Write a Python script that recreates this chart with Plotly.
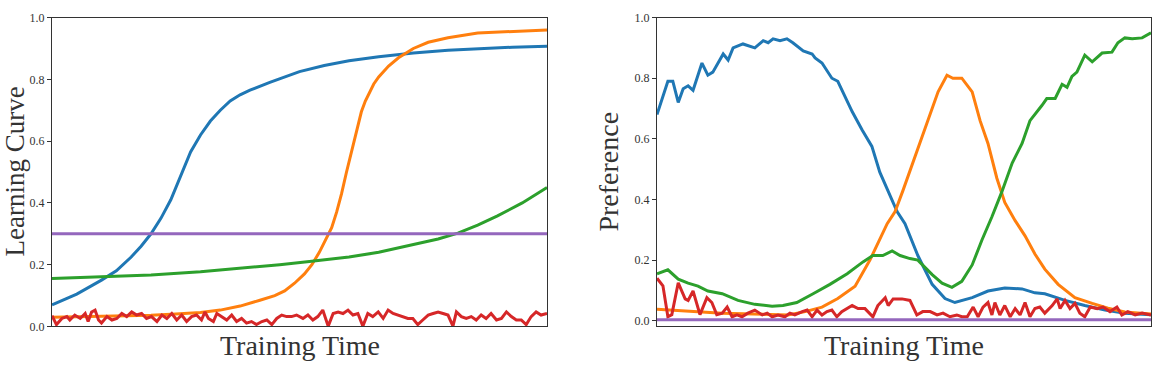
import plotly.graph_objects as go

# ---------------- Left panel: Learning Curve ----------------
L_blue_x = [0, 5, 10, 13, 16, 18, 20, 22, 24, 26, 28, 30, 32, 34, 36, 38, 40, 44, 50, 55, 60, 66, 73, 80, 87, 93, 100]
L_blue_y = [0.07, 0.105, 0.15, 0.18, 0.225, 0.26, 0.30, 0.35, 0.41, 0.49, 0.565, 0.62, 0.665, 0.70, 0.73, 0.75,
            0.765, 0.79, 0.825, 0.845, 0.86, 0.873, 0.885, 0.894, 0.90, 0.904, 0.907]

L_orange_x = [0, 10, 20, 25, 30, 34, 38, 42, 45, 47, 49, 51, 52.5, 54, 55.5, 56.5, 57.5, 58.5, 59.5, 60.5, 61.5,
              62.5, 63.3, 64, 65, 66, 68, 70, 73, 76, 80, 86, 93, 100]
L_orange_y = [0.03, 0.033, 0.036, 0.04, 0.045, 0.053, 0.066, 0.085, 0.10, 0.115, 0.14, 0.17, 0.20, 0.24, 0.285,
              0.32, 0.37, 0.43, 0.50, 0.565, 0.635, 0.695, 0.73, 0.755, 0.785, 0.808, 0.843, 0.870, 0.90, 0.92,
              0.935, 0.95, 0.956, 0.96]

L_green_x = [0, 10, 20, 30, 40, 46, 52, 60, 66, 73, 78, 82, 86, 90, 95, 100]
L_green_y = [0.155, 0.16, 0.167, 0.177, 0.19, 0.20, 0.21, 0.225, 0.24, 0.265, 0.283, 0.302, 0.328, 0.358, 0.40, 0.45]

L_purple_x = [0, 100]
L_purple_y = [0.30, 0.30]

L_red_x = [0, 0.9, 2.0, 3.0, 3.6, 4.6, 5.7, 6.7, 7.3, 8.0, 8.7, 9.4, 10.0, 11.1, 12.1, 13.1, 14.1, 15.1, 16.1,
           17.1, 18.1, 19.1, 20.1, 21.2, 22.2, 23.2, 24.2, 25.2, 26.2, 27.2, 28.2, 29.2, 30.2, 30.9, 31.6, 32.6,
           33.3, 34.3, 35.3, 36.3, 37.3, 38.3, 39.3, 40.3, 41.3, 42.4, 43.4, 44.4, 45.4, 46.4, 47.4, 48.4, 49.4,
           50.7, 51.7, 52.7, 53.7, 54.7, 55.8, 56.8, 57.8, 58.8, 59.8, 60.8, 61.8, 62.8, 63.8, 64.8, 65.9,
           66.9, 67.9, 68.9, 69.9, 70.9, 71.9, 72.9, 73.9, 74.9, 76.0, 77.0, 78.0, 79.0, 80.0, 81.0, 81.7, 82.7,
           83.7, 84.7, 85.7, 86.7, 87.7, 88.7, 89.8, 90.8, 91.8, 92.8, 93.8, 94.8, 95.8, 96.8, 97.8, 98.8, 100]
L_red_y = [0.035, 0.006, 0.026, 0.032, 0.021, 0.037, 0.026, 0.042, 0.016, 0.047, 0.053, 0.021, 0.011, 0.032, 0.021,
           0.026, 0.042, 0.032, 0.047, 0.037, 0.042, 0.026, 0.032, 0.016, 0.037, 0.026, 0.042, 0.021, 0.037, 0.016,
           0.032, 0.037, 0.021, 0.047, 0.026, 0.016, 0.042, 0.032, 0.021, 0.037, 0.016, 0.026, 0.011, 0.016, 0.006,
           0.016, 0.021, 0.006, 0.026, 0.037, 0.032, 0.032, 0.037,
           0.026, 0.037, 0.021, 0.032, 0.053, 0.001, 0.042, 0.047, 0.042, 0.053, 0.037, 0.042, 0.001, 0.042, 0.032,
           0.047, 0.026, 0.053, 0.042, 0.037, 0.032, 0.026, 0.026, 0.006, 0.021, 0.037, 0.042, 0.047, 0.042, 0.037,
           0.001, 0.047, 0.032, 0.026, 0.032, 0.021, 0.037, 0.026, 0.042, 0.021, 0.026, 0.047, 0.032, 0.021, 0.021,
           0.006, 0.032, 0.047, 0.037, 0.042]

# ---------------- Right panel: Preference ----------------
R_blue_x = [0, 2.2, 3.2, 4.3, 5.3, 6.3, 7.3, 9.1, 10.3, 11.3, 13.4, 14.4, 15.4, 17.4, 19.8, 21.5, 22.5, 23.5, 24.9,
            26.3, 27.5, 29.6, 31.4, 32.0, 33.4, 35.4, 36.6, 39.5, 41.5, 43.5, 45.1, 47.2, 48.6, 50.2, 52.8, 55.7,
            58.3, 60.3, 63.8, 67.0, 70.4, 73.9, 76.5, 78.5, 82.6, 86.6, 90.7, 94.7, 100]
R_blue_y = [0.68, 0.79, 0.79, 0.72, 0.765, 0.775, 0.76, 0.85, 0.81, 0.82, 0.88, 0.86, 0.90, 0.913, 0.90, 0.924, 0.917,
            0.93, 0.924, 0.93, 0.917, 0.89, 0.88, 0.867, 0.85, 0.80, 0.79, 0.69, 0.63, 0.575, 0.49, 0.415, 0.36,
            0.32, 0.215, 0.12, 0.073, 0.06, 0.076, 0.098, 0.108, 0.105, 0.092, 0.089, 0.067, 0.05, 0.035, 0.025, 0.02]

R_orange_x = [0, 13.2, 26.5, 30.0, 33.4, 36.6, 40.1, 43.1, 46.6, 48.2, 49.8, 52.2, 53.6, 55.7, 56.9, 58.7, 59.9,
              61.7, 63.8, 65.4, 67.0, 68.8, 70.4, 72.5, 74.5, 76.5, 78.5, 81.2, 84.6, 88.1, 91.3, 94.7, 100]
R_orange_y = [0.038, 0.025, 0.019, 0.03, 0.045, 0.073, 0.114, 0.20, 0.32, 0.36, 0.43, 0.54, 0.60, 0.70, 0.755,
              0.81, 0.80, 0.80, 0.755, 0.66, 0.585, 0.47, 0.39, 0.33, 0.28, 0.22, 0.17, 0.12, 0.076, 0.057, 0.041,
              0.029, 0.022]

R_green_x = [0, 2.2, 4.3, 6.3, 8.3, 10.3, 13.2, 16.4, 19.8, 23.3, 25.5, 28.3, 31.6, 35.0, 38.5, 41.7, 43.7, 45.7,
             47.6, 49.2, 51.2, 52.8, 55.7, 57.7, 59.7, 61.7, 63.8, 65.8, 67.8, 69.8, 71.9, 73.9, 75.5, 76.5, 77.9,
             78.9, 80.6, 82.0, 83.0, 84.0, 85.0, 86.6, 88.1, 90.1, 92.1, 93.3, 94.7, 96.2, 98.2, 100]
R_green_y = [0.155, 0.168, 0.137, 0.124, 0.114, 0.098, 0.089, 0.067, 0.054, 0.048, 0.05, 0.06, 0.089, 0.12, 0.155,
             0.194, 0.215, 0.215, 0.23, 0.215, 0.205, 0.20, 0.152, 0.124, 0.11, 0.13, 0.184, 0.267, 0.343, 0.425,
             0.52, 0.585, 0.66, 0.68, 0.71, 0.733, 0.733, 0.78, 0.77, 0.806, 0.82, 0.876, 0.854, 0.883, 0.886,
             0.917, 0.933, 0.93, 0.933, 0.95]

R_red_x = [0, 1.2, 2.2, 3.0, 4.3, 5.7, 6.3, 7.3, 8.7, 10.1, 11.1, 12.1, 13.2, 14.2, 15.2, 16.2, 17.2, 18.4, 19.8,
           21.3, 22.3, 23.3, 24.5, 25.9, 26.9, 27.9, 29.4, 30.4, 31.4, 32.4, 33.4, 34.4, 35.4, 36.4, 37.4, 39.5,
           40.7, 42.1, 43.7, 44.7, 46.2, 46.8, 47.8, 49.6, 51.2, 52.6, 53.8, 55.3, 56.7, 57.9, 59.3, 60.7, 61.7,
           62.8, 64.0, 65.0, 66.0, 67.0, 67.8, 68.4, 69.4, 70.4, 71.5, 72.5, 73.5, 74.5, 75.5, 76.5, 77.5, 78.5,
           80.0, 81.0, 81.6, 82.6, 83.6, 84.6, 85.6, 86.6, 87.7, 89.1, 90.3, 91.7, 93.1, 94.1, 95.3, 96.8, 98.2, 100]
R_red_y = [0.14, 0.115, 0.013, 0.02, 0.125, 0.072, 0.067, 0.098, 0.02, 0.076, 0.06, 0.02, 0.025, 0.045, 0.013, 0.019,
           0.013, 0.025, 0.035, 0.019, 0.025, 0.013, 0.019, 0.013, 0.025, 0.019, 0.03, 0.035, 0.013, 0.035, 0.019,
           0.03, 0.035, 0.013, 0.03, 0.05, 0.04, 0.04, 0.013, 0.05, 0.076, 0.05, 0.072, 0.072, 0.067, 0.019, 0.03,
           0.03, 0.019, 0.025, 0.013, 0.019, 0.013, 0.013, 0.045, 0.013, 0.045, 0.06, 0.019, 0.06, 0.019, 0.05,
           0.013, 0.04, 0.019, 0.06, 0.013, 0.04, 0.045, 0.025, 0.05, 0.072, 0.04, 0.067, 0.04, 0.057, 0.025, 0.013,
           0.045, 0.04, 0.045, 0.03, 0.045, 0.019, 0.03, 0.019, 0.025, 0.019]

R_purple_x = [0, 100]
R_purple_y = [0.003, 0.003]

Y_TICKS = [0.0, 0.2, 0.4, 0.6, 0.8, 1.0]
Y_TICK_TEXT = ["0.0", "0.2", "0.4", "0.6", "0.8", "1.0"]

C_BLUE, C_ORANGE, C_GREEN, C_RED, C_PURPLE = "#1f77b4", "#ff7f0e", "#2ca02c", "#d62728", "#9467bd"
W, H = 1156, 371
SERIF = "Liberation Serif, DejaVu Serif, serif"

fig = go.Figure()

def add(x, y, color, xa, ya):
    fig.add_trace(go.Scatter(x=x, y=y, mode="lines", xaxis=xa, yaxis=ya,
                             line=dict(color=color, width=3, shape="linear"),
                             showlegend=False, hoverinfo="skip"))

add(L_blue_x, L_blue_y, C_BLUE, "x", "y")
add(L_orange_x, L_orange_y, C_ORANGE, "x", "y")
add(L_green_x, L_green_y, C_GREEN, "x", "y")
add(L_red_x, L_red_y, C_RED, "x", "y")
add(L_purple_x, L_purple_y, C_PURPLE, "x", "y")

add(R_blue_x, R_blue_y, C_BLUE, "x2", "y2")
add(R_orange_x, R_orange_y, C_ORANGE, "x2", "y2")
add(R_green_x, R_green_y, C_GREEN, "x2", "y2")
add(R_red_x, R_red_y, C_RED, "x2", "y2")
add(R_purple_x, R_purple_y, C_PURPLE, "x2", "y2")

top = 1 - 11 / H
bot = 1 - 332 / H

xcommon = dict(showticklabels=False, ticks="", showgrid=False, zeroline=False, showline=True,
               linecolor="#333", linewidth=1, mirror=True, range=[0, 100], fixedrange=True)
ycommon = dict(tickvals=Y_TICKS, ticktext=Y_TICK_TEXT, ticks="outside", ticklen=4, tickwidth=1, tickcolor="#333",
               showgrid=False, zeroline=False, showline=True, linecolor="#333", linewidth=1, mirror=True,
               tickfont=dict(family=SERIF, size=12, color="#333"), fixedrange=True)

fig.update_layout(
    width=W, height=H, margin=dict(l=0, r=0, t=0, b=0),
    paper_bgcolor="white", plot_bgcolor="white",
    xaxis=dict(domain=[52 / W, 547 / W], anchor="y", **xcommon),
    yaxis=dict(domain=[bot, top], anchor="x", range=[0, 1], **ycommon),
    xaxis2=dict(domain=[657 / W, 1151 / W], anchor="y2", **xcommon),
    yaxis2=dict(domain=[bot, top], anchor="x2", range=[-0.019, 1.0], **ycommon),
    annotations=[
        dict(text="Training Time", x=299.5 / W, y=1 - 334 / H, xref="paper", yref="paper",
             xanchor="center", yanchor="top", showarrow=False, font=dict(family=SERIF, size=28, color="#333")),
        dict(text="Training Time", x=904 / W, y=1 - 334 / H, xref="paper", yref="paper",
             xanchor="center", yanchor="top", showarrow=False, font=dict(family=SERIF, size=28, color="#333")),
        dict(text="Learning Curve", x=15 / W, y=1 - 171 / H, xref="paper", yref="paper",
             xanchor="center", yanchor="middle", textangle=-90, showarrow=False,
             font=dict(family=SERIF, size=27, color="#333")),
        dict(text="Preference", x=609 / W, y=1 - 171 / H, xref="paper", yref="paper",
             xanchor="center", yanchor="middle", textangle=-90, showarrow=False,
             font=dict(family=SERIF, size=28, color="#333")),
    ],
)

fig.write_html("out.html")
